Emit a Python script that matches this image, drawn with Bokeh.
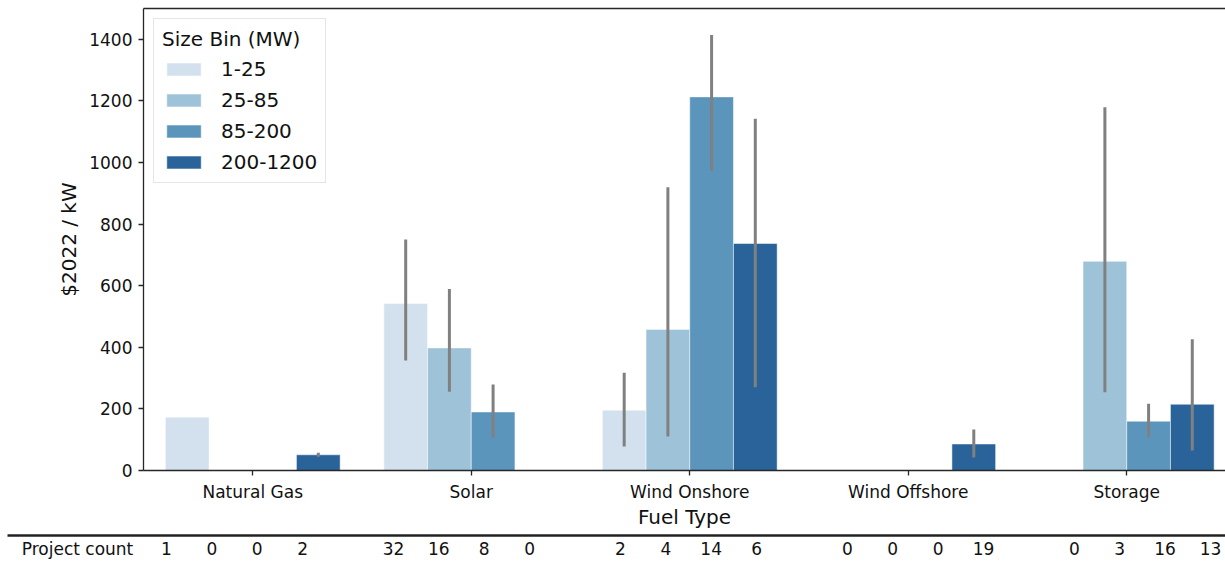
import math
from bokeh.plotting import figure
from bokeh.models import (Range1d, FixedTicker, LinearAxis, Legend, LegendItem,
                          ColumnDataSource)
from bokeh.core.properties import value
from bokeh.layouts import column
from bokeh.embed import file_html
from bokeh.resources import INLINE

nan = float("nan")

categories = ["Natural Gas", "Solar", "Wind Onshore", "Wind Offshore", "Storage"]
size_bins = ["1-25", "25-85", "85-200", "200-1200"]

cost_1_25 = [173, 542, 196, nan, nan]
cost_25_85 = [nan, 398, 458, nan, 679]
cost_85_200 = [nan, 190, 1213, nan, 160]
cost_200_1200 = [51, nan, 737, 86, 215]

err_low_1_25 = [nan, 357, 78, nan, nan]
err_high_1_25 = [nan, 750, 317, nan, nan]
err_low_25_85 = [nan, 256, 110, nan, 254]
err_high_25_85 = [nan, 589, 920, nan, 1179]
err_low_85_200 = [nan, 106, 972, nan, 108]
err_high_85_200 = [nan, 279, 1414, nan, 217]
err_low_200_1200 = [45, nan, 270, 42, 65]
err_high_200_1200 = [58, nan, 1142, 133, 426]

count_1_25 = [1, 32, 2, 0, 0]
count_25_85 = [0, 16, 4, 0, 3]
count_85_200 = [0, 8, 14, 0, 16]
count_200_1200 = [2, 0, 6, 19, 13]

y_ticks = [0, 200, 400, 600, 800, 1000, 1200, 1400]

costs = [cost_1_25, cost_25_85, cost_85_200, cost_200_1200]
lows = [err_low_1_25, err_low_25_85, err_low_85_200, err_low_200_1200]
highs = [err_high_1_25, err_high_25_85, err_high_85_200, err_high_200_1200]
counts = [count_1_25, count_25_85, count_85_200, count_200_1200]

colors = ["#d3e1ef", "#9ec3d8", "#5b95bb", "#2a6399"]
FONT = "DejaVu Sans"
AX = "#262626"
TXT = "#111111"

p = figure(width=1225, height=531, x_range=Range1d(-0.5, 4.452), y_range=Range1d(0, 1500),
           output_backend="svg", toolbar_location=None,
           min_border_left=143, min_border_right=0, min_border_top=8, min_border_bottom=50)
p.frame_align = False
p.xgrid.visible = False
p.ygrid.visible = False
p.outline_line_color = None
p.background_fill_color = "white"

n_bins = len(size_bins)
width = 0.8 / n_bins
items = []
for j, (b, vals, lo, hi, col) in enumerate(zip(size_bins, costs, lows, highs, colors)):
    off = (j - (n_bins - 1) / 2) * width
    xs = [i + off for i in range(len(categories))]
    bx = [x for x, v in zip(xs, vals) if not math.isnan(v)]
    bt = [v for v in vals if not math.isnan(v)]
    src = ColumnDataSource(dict(x=bx, top=bt))
    r = p.vbar(x="x", top="top", width=width, source=src, fill_color=col,
               line_color="white", line_width=0.8, line_alpha=0.6)
    items.append(LegendItem(label=b, renderers=[r]))
    ex = [x for x, l in zip(xs, lo) if not math.isnan(l)]
    el = [l for l in lo if not math.isnan(l)]
    eh = [h for h in hi if not math.isnan(h)]
    esrc = ColumnDataSource(dict(x=ex, lo=el, hi=eh))
    p.segment(x0="x", y0="lo", x1="x", y1="hi", source=esrc,
              line_color="#808080", line_width=3)

xa = p.xaxis[0]
xa.ticker = FixedTicker(ticks=list(range(len(categories))))
xa.major_label_overrides = {i: c for i, c in enumerate(categories)}
xa.axis_label = "Fuel Type"
ya = p.yaxis[0]
ya.ticker = FixedTicker(ticks=y_ticks)
ya.axis_label = "$2022 / kW"
for a in (xa, ya):
    a.axis_line_color = AX
    a.axis_line_width = 1.3
    a.major_tick_line_color = AX
    a.major_tick_line_width = 1.3
    a.major_tick_out = 5
    a.major_tick_in = 0
    a.minor_tick_line_color = None
    a.major_label_text_font = FONT
    a.major_label_text_font_size = "17px"
    a.major_label_text_color = TXT
    a.axis_label_text_font = FONT
    a.axis_label_text_font_size = "20px"
    a.axis_label_text_font_style = "normal"
    a.axis_label_text_color = TXT
xa.major_label_standoff = 6
xa.axis_label_standoff = 0
ya.major_label_standoff = 6
ya.axis_label_standoff = 5

top_ax = LinearAxis(ticker=FixedTicker(ticks=[]), major_tick_line_color=None,
                    minor_tick_line_color=None, major_label_text_font_size="0px",
                    axis_line_color=AX, axis_line_width=1.3)
p.add_layout(top_ax, "above")

legend = Legend(items=items, location="top_left", title="Size Bin (MW)",
                label_text_font=FONT, label_text_font_size="20px", label_text_color=TXT,
                title_text_font=FONT, title_text_font_size="20px", title_text_color=TXT,
                title_text_font_style="normal", title_standoff=6,
                glyph_width=43, glyph_height=16, label_standoff=16,
                spacing=7, padding=8, margin=10,
                border_line_color="#cccccc", border_line_width=1,
                background_fill_color="white", background_fill_alpha=0.9)
p.add_layout(legend)

# project count table row
col_w = 45.39
x0px = 166.0
t = figure(width=1225, height=30, output_backend="svg", toolbar_location=None,
           x_range=Range1d(-x0px / col_w, (1225 - x0px) / col_w), y_range=Range1d(0, 30),
           min_border_left=0, min_border_right=0, min_border_top=0, min_border_bottom=0)
t.frame_align = False
t.axis.visible = False
t.grid.visible = False
t.outline_line_color = None
tx, ty, tt = [], [], []
for i in range(len(categories)):
    for j in range(n_bins):
        tx.append(i * (n_bins + 1) + j)
        ty.append(13)
        tt.append(str(counts[j][i]))
t.text(x=tx, y=ty, text=tt, text_align="center", text_baseline="middle",
       text_font=value(FONT), text_font_size="17px", text_color=TXT)
t.text(x=[(77 - x0px) / col_w], y=[13], text=["Project count"], text_align="center",
       text_baseline="middle", text_font=value(FONT), text_font_size="17px",
       text_color=TXT)
t.segment(x0=[(7 - x0px) / col_w], y0=[26], x1=[(1225 - x0px) / col_w], y1=[26],
          line_color="#222222", line_width=2.5)

layout = column(p, t, spacing=0)
open("out.html", "w").write(file_html(layout, INLINE))
